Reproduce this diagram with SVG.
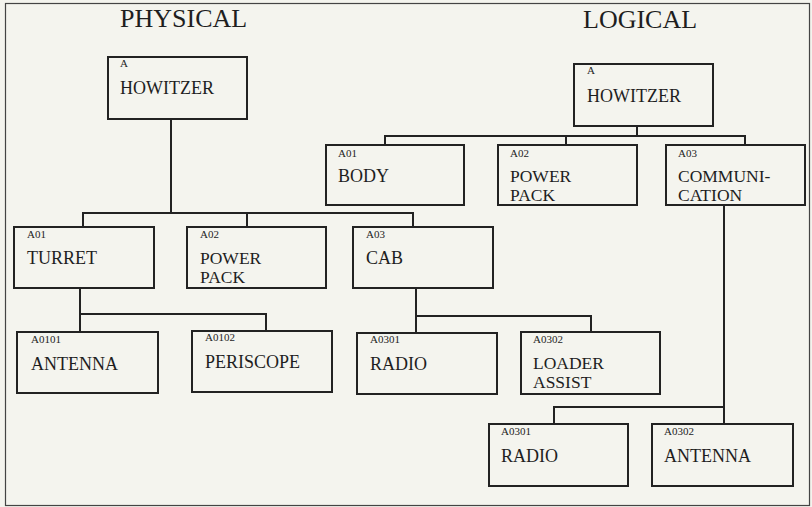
<svg xmlns="http://www.w3.org/2000/svg" width="812" height="507" viewBox="0 0 812 507">
<style>
.box{fill:none;stroke:#222;stroke-width:2}
.ln{fill:none;stroke:#222;stroke-width:2}
.t{font-family:"Liberation Serif","Times New Roman",serif;fill:#1e1e1e}
.big{font-size:18px}
.two{font-size:17.5px}
.sm{font-size:11px}
.title{font-size:26px}
</style>
<rect x="0" y="0" width="812" height="507" fill="#f4f4ee"/>
<rect x="5.5" y="3.5" width="804" height="502" fill="none" stroke="#444" stroke-width="1.2"/>
<text class="t title" x="120" y="27">PHYSICAL</text>
<text class="t title" x="583" y="28">LOGICAL</text>
<g id="connectors">
<polyline class="ln" points="171,119 171,213"/>
<polyline class="ln" points="83,227 83,213 413,213 413,227"/>
<polyline class="ln" points="247,213 247,227"/>
<polyline class="ln" points="80,288 80,332"/>
<polyline class="ln" points="80,314 266,314 266,331"/>
<polyline class="ln" points="416,288 416,333"/>
<polyline class="ln" points="416,316 591,316 591,332"/>
<polyline class="ln" points="637,126 637,136"/>
<polyline class="ln" points="385,145 385,136 745,136 745,145"/>
<polyline class="ln" points="566,136 566,145"/>
<polyline class="ln" points="724,205 724,424"/>
<polyline class="ln" points="554,424 554,407 724,407"/>
</g>
<g id="p_howitzer"><rect class="box" x="108" y="57" width="139" height="62"/><text class="t sm" x="120" y="67">A</text><text class="t big" x="120" y="94">HOWITZER</text></g>
<g id="p_turret"><rect class="box" x="14" y="227" width="140" height="61"/><text class="t sm" x="27" y="238">A01</text><text class="t big" x="27" y="264">TURRET</text></g>
<g id="p_powerpack"><rect class="box" x="187" y="227" width="139" height="61"/><text class="t sm" x="200" y="238">A02</text><text class="t two" x="200" y="264">POWER</text><text class="t two" x="200" y="283">PACK</text></g>
<g id="p_cab"><rect class="box" x="353" y="227" width="140" height="61"/><text class="t sm" x="366" y="238">A03</text><text class="t big" x="366" y="264">CAB</text></g>
<g id="p_antenna"><rect class="box" x="17" y="332" width="141" height="61"/><text class="t sm" x="31" y="343">A0101</text><text class="t big" x="31" y="370">ANTENNA</text></g>
<g id="p_periscope"><rect class="box" x="192" y="331" width="140" height="61"/><text class="t sm" x="205" y="341">A0102</text><text class="t big" x="205" y="368">PERISCOPE</text></g>
<g id="p_radio"><rect class="box" x="357" y="333" width="140" height="61"/><text class="t sm" x="370" y="343">A0301</text><text class="t big" x="370" y="370">RADIO</text></g>
<g id="p_loader"><rect class="box" x="521" y="332" width="139" height="62"/><text class="t sm" x="533" y="343">A0302</text><text class="t two" x="533" y="369">LOADER</text><text class="t two" x="533" y="388">ASSIST</text></g>
<g id="l_howitzer"><rect class="box" x="574" y="64" width="139" height="62"/><text class="t sm" x="587" y="74">A</text><text class="t big" x="587" y="102">HOWITZER</text></g>
<g id="l_body"><rect class="box" x="326" y="145" width="138" height="60"/><text class="t sm" x="338" y="157">A01</text><text class="t big" x="338" y="182">BODY</text></g>
<g id="l_powerpack"><rect class="box" x="498" y="145" width="139" height="60"/><text class="t sm" x="510" y="157">A02</text><text class="t two" x="510" y="182">POWER</text><text class="t two" x="510" y="201">PACK</text></g>
<g id="l_communication"><rect class="box" x="666" y="145" width="139" height="60"/><text class="t sm" x="678" y="157">A03</text><text class="t two" x="678" y="182">COMMUNI-</text><text class="t two" x="678" y="201">CATION</text></g>
<g id="l_radio"><rect class="box" x="489" y="424" width="139" height="62"/><text class="t sm" x="501" y="435">A0301</text><text class="t big" x="501" y="462">RADIO</text></g>
<g id="l_antenna"><rect class="box" x="652" y="424" width="141" height="62"/><text class="t sm" x="664" y="435">A0302</text><text class="t big" x="664" y="462">ANTENNA</text></g>
</svg>
